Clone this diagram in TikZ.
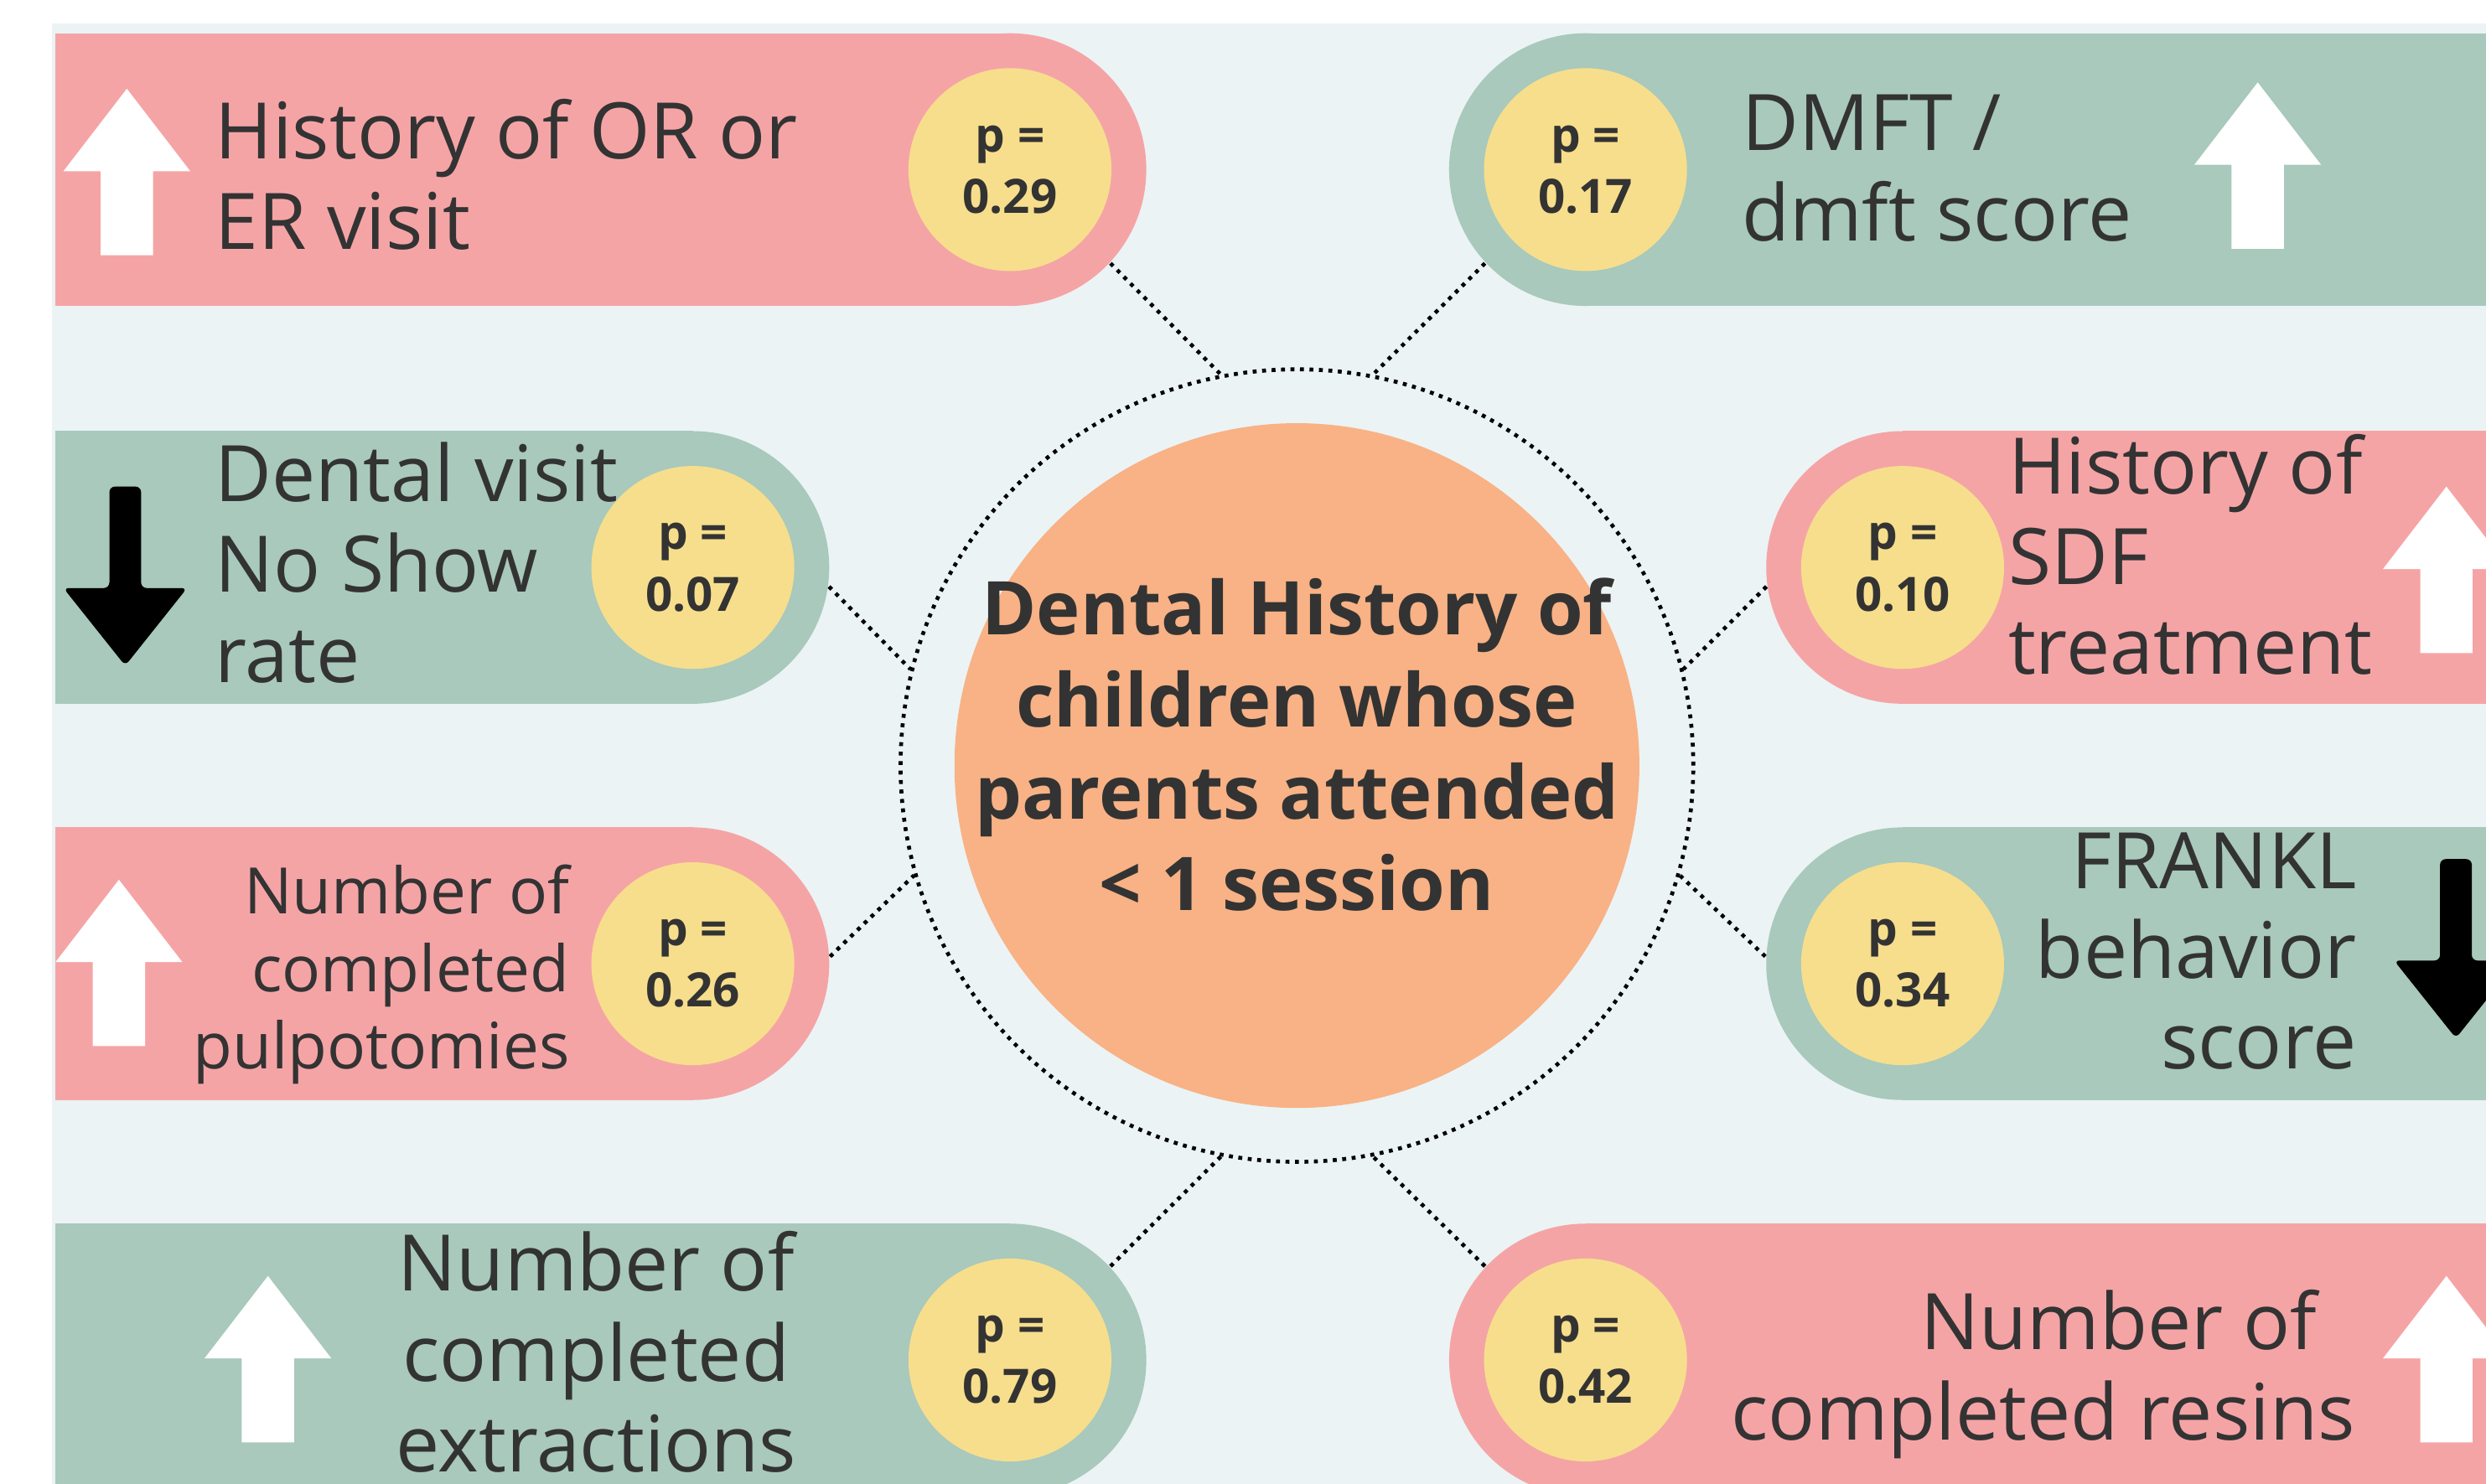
\documentclass[tikz,border=0pt]{standalone}
\usepackage{fontspec}
\setmainfont{Open Sans}
\usepackage{xcolor}
\definecolor{rose}{HTML}{F5A4A6}
\definecolor{sage}{HTML}{A8C9BC}
\definecolor{butter}{HTML}{F7DE8C}
\definecolor{peach}{HTML}{F8B285}
\definecolor{mist}{HTML}{EBF3F5}
\definecolor{ink}{HTML}{333333}
\usepackage{tikz}
\usetikzlibrary{positioning, calc}

\begin{document}
\begin{tikzpicture}[
    endcap/.style={circle, inner sep=0pt, minimum size=1.72cm},
    pval/.style={circle, fill=butter, inner sep=0pt, minimum size=1.28cm, align=center,
      text=ink, font=\fontsize{8.5}{11}\selectfont\bfseries},
    factor/.style={inner sep=0pt, text=ink, font=\fontsize{14}{16.2}\selectfont},
    link/.style={draw=black, line width=0.7pt, dash pattern=on 0.7pt off 1.0pt},
    uparrow/.pic={\fill[white] (0,0) -- (0.40,-0.52) -- (0.165,-0.52) -- (0.165,-1.05)
      -- (-0.165,-1.05) -- (-0.165,-0.52) -- (-0.40,-0.52) -- cycle;},
    downarrow/.pic={\fill[black, rounded corners=1pt] (-0.1,0) -- (0.1,0) -- (0.1,-0.64)
      -- (0.39,-0.64) -- (0,-1.13) -- (-0.39,-0.64) -- (-0.1,-0.64) -- cycle;}
  ]
  \useasboundingbox (0,0) rectangle (15.68,-9.36);
  \clip (0,0) rectangle (15.68,-9.36);
  \fill[white] (0,0) rectangle (15.68,-9.36);

  % Background panel
  \fill[mist] (0.33,-0.15) rectangle (16.5,-10);

  % Row 1 left - OR / ER visit
  \fill[rose] (0.35,-0.21) rectangle (6.37,-1.93);
  \node[endcap, fill=rose] (cap1) at (6.37,-1.07) {};
  \node[pval] (pval1) at (cap1) {p =\\0.29};
  \pic at (0.80,-0.56) {uparrow};
  \node[factor, anchor=west, align=left] (txt1) at (1.35,-1.10) {History of OR or\\ER visit};

  % Row 1 right - DMFT
  \fill[sage] (10.00,-0.21) rectangle (16.5,-1.93);
  \node[endcap, fill=sage] (cap5) at (10.00,-1.07) {};
  \node[pval] (pval5) at (cap5) {p =\\0.17};
  \pic at (14.24,-0.52) {uparrow};
  \node[factor, anchor=west, align=left] (txt5) at (10.98,-1.06) {DMFT /\\dmft score};

  % Row 2 left - no show rate
  \fill[sage] (0.35,-2.72) rectangle (4.37,-4.44);
  \node[endcap, fill=sage] (cap2) at (4.37,-3.58) {};
  \node[pval] (pval2) at (cap2) {p =\\0.07};
  \pic at (0.79,-3.07) {downarrow};
  \node[factor, anchor=west, align=left] (txt2) at (1.35,-3.55) {Dental visit\\No Show\\rate};

  % Row 2 right - SDF
  \fill[rose] (12.00,-2.72) rectangle (16.5,-4.44);
  \node[endcap, fill=rose] (cap6) at (12.00,-3.58) {};
  \node[pval] (pval6) at (cap6) {p =\\0.10};
  \pic at (15.43,-3.07) {uparrow};
  \node[factor, anchor=west, align=left] (txt6) at (12.66,-3.50) {History of\\SDF\\treatment};

  % Row 3 left - pulpotomies
  \fill[rose] (0.35,-5.22) rectangle (4.37,-6.94);
  \node[endcap, fill=rose] (cap3) at (4.37,-6.08) {};
  \node[pval] (pval3) at (cap3) {p =\\0.26};
  \pic at (0.75,-5.55) {uparrow};
  \node[factor, anchor=east, align=right, font=\fontsize{11.5}{13.9}\selectfont] (txt3)
    at (3.60,-6.15) {Number of\\completed\hspace*{0.19cm}\\pulpotomies};

  % Row 3 right - FRANKL
  \fill[sage] (12.00,-5.22) rectangle (16.5,-6.94);
  \node[endcap, fill=sage] (cap7) at (12.00,-6.08) {};
  \node[pval] (pval7) at (cap7) {p =\\0.34};
  \pic at (15.49,-5.42) {downarrow};
  \node[factor, anchor=east, align=right] (txt7) at (14.87,-6.00) {FRANKL\\behavior\\score};

  % Row 4 left - extractions
  \fill[sage] (0.35,-7.72) rectangle (6.37,-9.44);
  \node[endcap, fill=sage] (cap4) at (6.37,-8.58) {};
  \node[pval] (pval4) at (cap4) {p =\\0.79};
  \pic at (1.69,-8.05) {uparrow};
  \node[factor, align=center] (txt4) at (3.76,-8.53) {Number of\\completed\\extractions};

  % Row 4 right - resins
  \fill[rose] (10.00,-7.72) rectangle (16.5,-9.44);
  \node[endcap, fill=rose] (cap8) at (10.00,-8.58) {};
  \node[pval] (pval8) at (cap8) {p =\\0.42};
  \pic at (15.43,-8.05) {uparrow};
  \node[factor, anchor=east, align=right] (txt8) at (14.86,-8.67)
    {Number of\hspace*{0.24cm}\\completed resins};

  % Centre
  \node[circle, link, minimum size=5.0cm, inner sep=0pt] (ring) at (8.18,-4.83) {};
  \node[circle, fill=peach, minimum size=4.32cm, inner sep=0pt] (hub) at (ring) {};
  \node[factor, align=center, font=\fontsize{13.3}{16.5}\selectfont\bfseries] (hubtext)
    at (8.18,-4.70) {Dental History of\\children whose\\parents attended\\< 1 session};

  % Connectors
  \draw[link] (cap1.-43) -- (ring.101);
  \draw[link] (cap2.-8) -- (ring.166);
  \draw[link] (cap3.3) -- (ring.196);
  \draw[link] (cap4.43) -- (ring.259);
  \draw[link] (cap5.223) -- (ring.79);
  \draw[link] (cap6.188) -- (ring.14);
  \draw[link] (cap7.177) -- (ring.-16);
  \draw[link] (cap8.137) -- (ring.281);
\end{tikzpicture}
\end{document}
